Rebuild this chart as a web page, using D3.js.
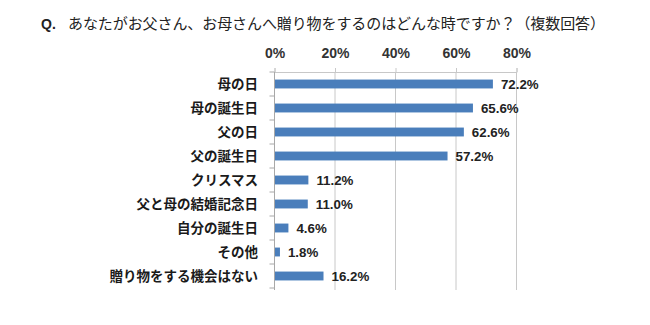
<!DOCTYPE html>
<html>
<head>
<meta charset="utf-8">
<script src="https://cdn.jsdelivr.net/npm/d3@7"></script>
<style>
  html, body { margin: 0; padding: 0; background: #fff; }
  svg { display: block; }
</style>
</head>
<body>
<svg id="chart" width="650" height="325"></svg>
<script>
// Survey answers and their shares (%)
const categories = ["母の日", "母の誕生日", "父の日", "父の誕生日", "クリスマス",
  "父と母の結婚記念日", "自分の誕生日", "その他", "贈り物をする機会はない"];
const values = [72.2, 65.6, 62.6, 57.2, 11.2, 11.0, 4.6, 1.8, 16.2];
const tickValues = [0, 20, 40, 60, 80];
const titleQ = "Q.";
const titleText = "あなたがお父さん、お母さんへ贈り物をするのはどんな時ですか？（複数回答）";

const svg = d3.select("#chart");
const jp = "'Noto Sans CJK JP', 'Noto Sans', sans-serif";
const num = "'Liberation Sans Narrow', 'Liberation Sans', Arial, sans-serif";

const plotLeft = 274.5, plotRight = 516.5, plotTop = 72, plotBottom = 288;

const x = d3.scaleLinear().domain([0, 80]).range([plotLeft, plotRight]);
const y = d3.scaleBand().domain(categories).range([plotTop, plotBottom]).paddingInner(0.63).paddingOuter(0.315);
const yb = d3.scaleBand().domain(categories).range([plotTop, plotBottom]);

// Title
svg.append("text").attr("x", 41).attr("y", 29)
  .attr("font-family", "'Liberation Sans', Arial, sans-serif").attr("font-weight", "bold").attr("font-size", 14)
  .attr("fill", "#222").text(titleQ);
svg.append("text").attr("x", 68).attr("y", 29)
  .attr("font-family", jp).attr("font-size", 15)
  .attr("textLength", 537).attr("lengthAdjust", "spacing")
  .attr("fill", "#222").text(titleText);

// Vertical gridlines
svg.append("g").selectAll("line").data(tickValues.slice(1)).join("line")
  .attr("x1", d => x(d)).attr("x2", d => x(d))
  .attr("y1", plotTop).attr("y2", plotBottom + 2)
  .attr("stroke", "#c8c8c8").attr("stroke-width", 1);

// Top axis
const xAxis = d3.axisTop(x).tickValues(tickValues).tickSize(4).tickFormat(d => d + "%");
const gx = svg.append("g").attr("transform", `translate(0,${plotTop})`).call(xAxis);
gx.select(".domain").attr("stroke", "#c8c8c8");
gx.selectAll(".tick line").attr("stroke", "#c8c8c8");
gx.selectAll(".tick text").attr("y", -14).attr("font-family", num)
  .attr("font-weight", "bold").attr("font-size", 14).attr("fill", "#333");

// Left axis with ticks at category boundaries
svg.append("line").attr("x1", plotLeft).attr("x2", plotLeft).attr("y1", plotTop).attr("y2", plotBottom + 2)
  .attr("stroke", "#a8a8a8");
svg.append("g").selectAll("line").data(categories.concat([null])).join("line")
  .attr("x1", plotLeft - 5).attr("x2", plotLeft)
  .attr("y1", (d, i) => i < categories.length ? yb(d) : plotBottom)
  .attr("y2", (d, i) => i < categories.length ? yb(d) : plotBottom)
  .attr("stroke", "#a8a8a8");

// Category labels
svg.append("g").selectAll("text").data(categories).join("text")
  .attr("x", 258).attr("y", d => yb(d) + yb.bandwidth() / 2)
  .attr("dy", "0.36em").attr("text-anchor", "end")
  .attr("font-family", jp).attr("font-weight", "bold").attr("font-size", 13.5)
  .attr("fill", "#1a1a1a").text(d => d);

// Bars
svg.append("g").selectAll("rect").data(values).join("rect")
  .attr("x", x(0) + 0.5).attr("y", (d, i) => y(categories[i]))
  .attr("width", d => x(d) - x(0) - 0.5).attr("height", y.bandwidth())
  .attr("fill", "#4a7ebb");

// Value labels
svg.append("g").selectAll("text").data(values).join("text")
  .attr("x", d => x(d) + 8).attr("y", (d, i) => yb(categories[i]) + yb.bandwidth() / 2)
  .attr("dy", "0.36em")
  .attr("font-family", num).attr("font-weight", "bold").attr("font-size", 13.3)
  .attr("fill", "#222").text(d => d.toFixed(1) + "%");
</script>
</body>
</html>
